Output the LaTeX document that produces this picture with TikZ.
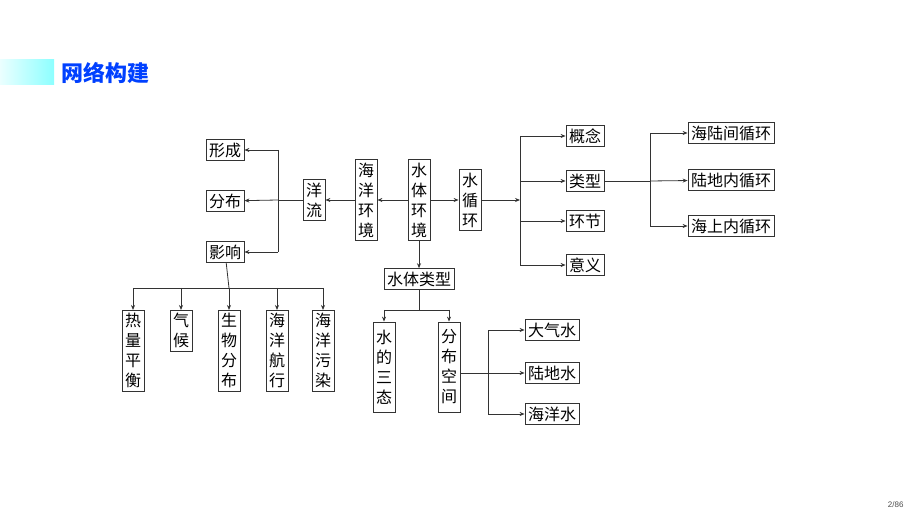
\documentclass[tikz,border=0pt]{standalone}
\usepackage{fontspec}
\newfontfamily\cjk{Noto Sans CJK SC}
\setmainfont{Liberation Sans}
\usetikzlibrary{arrows.meta}
\begin{document}
\begin{tikzpicture}[x=1pt,y=-1pt,
  bx/.style={draw=black!80,line width=0.8pt,inner sep=3pt,font=\cjk\fontsize{16}{20}\selectfont,align=center},
  ln/.style={draw=black!80,line width=0.8pt},
  ar/.style={ln,-{Stealth[length=5pt,width=4pt]}}]
\useasboundingbox (0,0) rectangle (920,518);
\shade[left color=cyan!8,right color=cyan!45] (0,60) rectangle (54,85);
\node[anchor=west,text=blue!75!cyan,font=\cjk\bfseries\fontsize{22}{24}\selectfont] (title) at (58,73) {网络构建};
\node[anchor=east,font=\fontsize{8}{9}\selectfont,text=black!70] (pg) at (907,505) {2/86};
% left
\node[bx] (xc) at (225,150) {形成};
\node[bx] (fb) at (225,201) {分布};
\node[bx] (yx) at (225,252) {影响};
\node[bx] (yl) at (314,200) {洋\\流};
\node[bx] (hy) at (366,200) {海\\洋\\环\\境};
\node[bx] (st) at (419,200) {水\\体\\环\\境};
\node[bx] (xh) at (470,200) {水\\循\\环};
\coordinate (lv) at (278,200);
\draw[ar] (st) -- (hy);
\draw[ar] (hy) -- (yl);
\draw[ln] (yl) -- (lv);
\draw[ln] (278,150) -- (278,252);
\draw[ar] (278,150) -- (xc);
\draw[ar] (lv) -- (fb);
\draw[ar] (278,252) -- (yx);
\draw[ar] (st) -- (xh);
% right
\node[bx] (gn) at (585,136) {概念};
\node[bx] (lx) at (585,181) {类型};
\node[bx] (hj) at (585,221) {环节};
\node[bx] (yy) at (585,265) {意义};
\coordinate (rv) at (520,200);
\draw[ar] (xh) -- (rv);
\draw[ln] (520,136) -- (520,265);
\draw[ar] (520,136) -- (gn);
\draw[ar] (520,181) -- (lx);
\draw[ar] (520,221) -- (hj);
\draw[ar] (520,265) -- (yy);
\node[bx] (h1) at (731,133) {海陆间循环};
\node[bx] (h2) at (731,180) {陆地内循环};
\node[bx] (h3) at (731,226) {海上内循环};
\coordinate (rv2) at (650,181);
\draw[ln] (lx) -- (rv2);
\draw[ln] (650,133) -- (650,226);
\draw[ar] (650,133) -- (h1);
\draw[ar] (rv2) -- (h2);
\draw[ar] (650,226) -- (h3);
% water types
\node[bx] (lt) at (419,279) {水体类型};
\draw[ar] (st) -- (lt);
\node[bx,minimum height=90pt] (sd) at (384,367) {水\\的\\三\\态};
\node[bx,minimum height=90pt] (fk) at (449,367) {分\\布\\空\\间};
\draw[ln] (lt) -- (419,310);
\draw[ln] (384,310) -- (449,310);
\draw[ar] (384,310) -- (sd);
\draw[ar] (449,310) -- (fk);
\node[bx] (dq) at (552,330) {大气水};
\node[bx] (ld) at (552,373) {陆地水};
\node[bx] (hs) at (552,414) {海洋水};
\coordinate (bv) at (488,373);
\draw[ln] (fk.east |- bv) -- (bv);
\draw[ln] (488,330) -- (488,414);
\draw[ar] (488,330) -- (dq);
\draw[ar] (bv) -- (ld);
\draw[ar] (488,414) -- (hs);
% influences
\node[bx,anchor=north] (e1) at (133,310) {热\\量\\平\\衡};
\node[bx,anchor=north] (e2) at (181,310) {气\\候};
\node[bx,anchor=north] (e3) at (229,310) {生\\物\\分\\布};
\node[bx,anchor=north] (e4) at (277,310) {海\\洋\\航\\行};
\node[bx,anchor=north] (e5) at (323,310) {海\\洋\\污\\染};
\draw[ln] (yx) -- (229,288);
\draw[ln] (133,288) -- (323,288);
\draw[ar] (133,288) -- (e1);
\draw[ar] (181,288) -- (e2);
\draw[ar] (229,288) -- (e3);
\draw[ar] (277,288) -- (e4);
\draw[ar] (323,288) -- (e5);
\end{tikzpicture}
\end{document}
